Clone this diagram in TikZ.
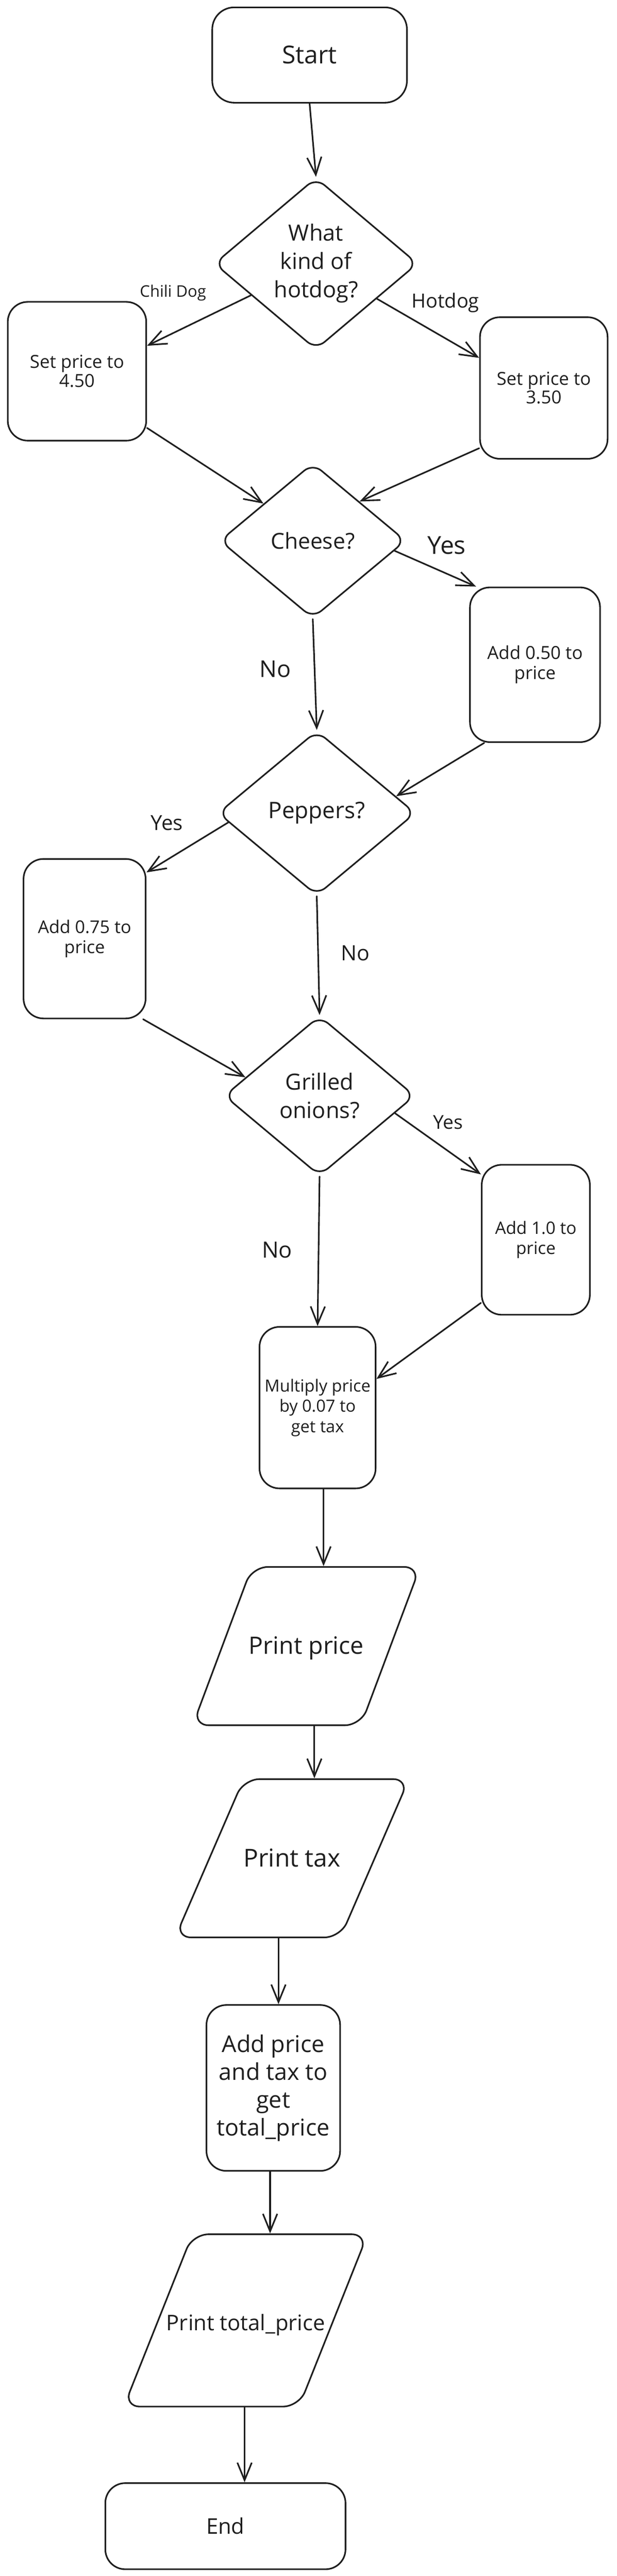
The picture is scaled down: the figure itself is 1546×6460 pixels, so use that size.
\documentclass[tikz,border=0pt]{standalone}
\usepackage{fontspec}
\setmainfont{Open Sans}
\usetikzlibrary{shapes.geometric, arrows.meta}
\definecolor{ink}{HTML}{1E1E1E}
\newcommand{\fs}[2]{\fontsize{#1}{#2}\selectfont}
\newcommand{\slim}[1]{\makebox[0pt]{#1}}

\begin{document}
\begin{tikzpicture}[x=1pt, y=-1pt, line width=4pt, color=ink, line cap=round, line join=round]
      \tikzstyle{terminal}=[rectangle, draw, rounded corners=55pt, inner sep=4pt, align=center]
      \tikzstyle{process}=[rectangle, draw, rounded corners=50pt, inner sep=4pt, align=center]
      \tikzstyle{decision}=[diamond, draw, rounded corners=28pt, aspect=1.2, inner sep=0pt, align=center]
      \tikzstyle{io}=[trapezium, draw, rounded corners=40pt, trapezium stretches body, inner sep=0pt, align=center]
      \tikzstyle{flow}=[-{Straight Barb[length=44pt, width=36pt]}]
      \tikzstyle{branch}=[inner sep=0pt]
      \path[use as bounding box, fill=white] (0,0) rectangle (1546,6460);
      % top
      \node[terminal, minimum width=488pt, minimum height=239pt, font=\fs{62}{68}] (start) at (776,138) {Start};
      \node[decision, minimum width=510pt, minimum height=431pt, font=\fs{56}{71}] (kind) at (792,661) {What\\kind of\\hotdog?};
      \node[process, minimum width=347pt, minimum height=348pt, font=\fs{45}{47}] (chili) at (193,931) {Set price to\\4.50};
      \node[process, minimum width=320pt, minimum height=355pt, font=\fs{45}{47}] (hotdog) at (1363,973) {Set price to\\3.50};
      % toppings
      \node[decision, minimum width=466pt, minimum height=389pt, font=\fs{55}{60}] (cheese) at (784,1356) {Cheese?};
      \node[process, minimum width=326pt, minimum height=388pt, font=\fs{45}{50}] (add050) at (1341,1667) {Add 0.50 to\\price};
      \node[decision, minimum width=495pt, minimum height=413pt, font=\fs{57}{62}] (peppers) at (794,2039) {Peppers?};
      \node[process, minimum width=306pt, minimum height=400pt, font=\fs{44}{51}] (add075) at (212,2354) {Add 0.75 to\\price};
      \node[decision, minimum width=478pt, minimum height=401pt, font=\fs{56}{72}] (onions) at (801,2748) {Grilled\\onions?};
      \node[process, minimum width=271pt, minimum height=376pt, font=\fs{43}{51}] (add10) at (1343,3109) {Add 1.0 to\\price};
      % totals
      \node[process, minimum width=291pt, minimum height=405pt, font=\fs{42}{51}] (multiply) at (796,3530) {Multiply price\\by 0.07 to\\get tax};
      \node[io, minimum width=570pt, text height=219pt, text depth=178pt, trapezium left angle=69.5, trapezium right angle=110.5, font=\fs{60}{66}] (pprice) at (768,4128) {\slim{Print price}};
      \node[io, minimum width=586pt, text height=220pt, text depth=177pt, trapezium left angle=66.6, trapezium right angle=113.4, font=\fs{62}{68}] (ptax) at (732,4660) {\slim{Print tax}};
      \node[process, minimum width=335pt, minimum height=416pt, font=\fs{58}{70}] (addtotal) at (685,5236) {Add price\\and tax to\\get\\total\_price};
      \node[io, minimum width=611pt, text height=241pt, text depth=191pt, trapezium left angle=68.3, trapezium right angle=111.7, font=\fs{54}{60}] (ptotal) at (616,5819) {\slim{Print total\_price}};
      \node[terminal, rounded corners=50pt, minimum width=602pt, minimum height=216pt, font=\fs{54}{60}] (end) at (565,6335) {End};
      % connectors
      \draw[flow] (start.south) -- (kind.north);
      \draw[flow] (kind.206) -- (chili.20) node[branch, pos=.75, yshift=101pt, font=\fs{40}{44}] {Chili Dog};
      \draw[flow] (kind.330) -- (hotdog.155) node[branch, pos=.67, yshift=89pt, font=\fs{49}{54}] {Hotdog};
      \draw[flow] (chili.321) -- (cheese.143);
      \draw[flow] (hotdog.223) -- (cheese.40);
      \draw[flow] (cheese.353) -- (add050.127) node[branch, pos=.64, yshift=71pt, font=\fs{62}{68}] {Yes};
      \draw[flow] (cheese.south) -- (peppers.north) node[branch, pos=.45, xshift=-99pt, font=\fs{58}{64}] {No};
      \draw[flow] (add050.237) -- (peppers.12);
      \draw[flow] (peppers.186) -- (add075.47) node[branch, pos=.75, yshift=93pt, font=\fs{52}{58}] {Yes};
      \draw[flow] (peppers.south) -- (onions.north) node[branch, pos=.48, xshift=93pt, font=\fs{53}{58}] {No};
      \draw[flow] (add075.306) -- (onions.166);
      \draw[flow] (onions.347) -- (add10.130) node[branch, pos=.62, yshift=72pt, font=\fs{48}{53}] {Yes};
      \draw[flow] (onions.south) -- (multiply.north) node[branch, pos=.49, xshift=-104pt, font=\fs{56}{62}] {No};
      \draw[flow] (add10.229) -- (multiply.26);
      \draw[flow] ([xshift=15pt]multiply.south) -- ([xshift=15pt]multiply.south |- pprice.north);
      \draw[flow] ([xshift=20pt]pprice.south) -- ([xshift=20pt]pprice.south |- ptax.north);
      \draw[flow] ([xshift=-34pt]ptax.south) -- ([xshift=-34pt]ptax.south |- addtotal.north);
      \draw[flow] ([xshift=-8pt]addtotal.south) -- ([xshift=-8pt]addtotal.south |- ptotal.north);
      \draw[flow] ([xshift=-3pt]ptotal.south) -- ([xshift=-3pt]ptotal.south |- end.north);
  \end{tikzpicture}
\end{document}
